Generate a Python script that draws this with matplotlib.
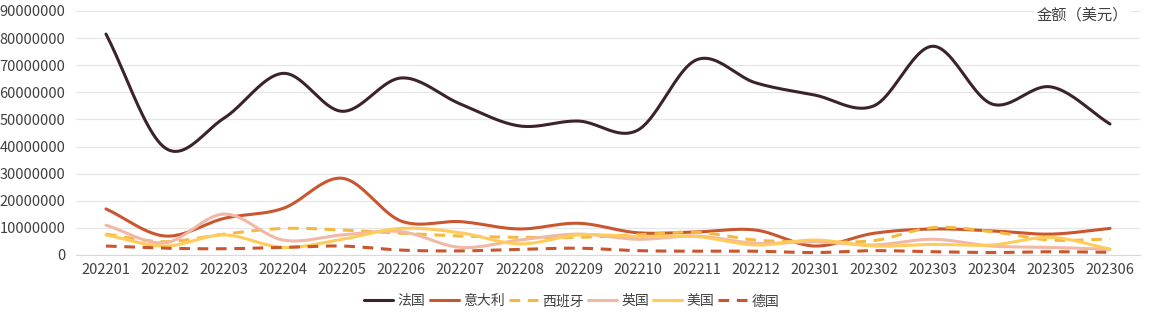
import numpy as np
import matplotlib
matplotlib.use('Agg')
import matplotlib.pyplot as plt

plt.rcParams['font.family'] = ['Noto Sans CJK SC', 'DejaVu Sans']

# monthly amounts, USD
months = ['202201', '202202', '202203', '202204', '202205', '202206',
          '202207', '202208', '202209', '202210', '202211', '202212',
          '202301', '202302', '202303', '202304', '202305', '202306']
france = [81.5e6, 39.5e6, 50.5e6, 67.0e6, 53.0e6, 65.3e6, 55.7e6, 47.6e6, 49.4e6,
          46.0e6, 72.0e6, 63.5e6, 59.0e6, 55.0e6, 77.0e6, 55.7e6, 62.0e6, 48.3e6]
italy = [17.0e6, 7.0e6, 13.5e6, 17.2e6, 28.3e6, 12.5e6, 12.3e6, 9.6e6, 11.7e6,
         8.2e6, 8.5e6, 9.2e6, 3.3e6, 8.0e6, 9.6e6, 8.9e6, 7.7e6, 9.8e6]
spain = [7.7e6, 4.9e6, 7.7e6, 9.8e6, 9.2e6, 8.0e6, 7.0e6, 6.5e6, 6.5e6,
         7.4e6, 8.4e6, 5.5e6, 4.9e6, 5.3e6, 10.1e6, 8.6e6, 5.5e6, 5.9e6]
uk = [11.0e6, 4.5e6, 15.1e6, 5.5e6, 7.4e6, 8.6e6, 2.8e6, 5.5e6, 7.7e6,
      5.8e6, 7.0e6, 4.3e6, 4.9e6, 3.7e6, 5.8e6, 3.3e6, 2.8e6, 2.1e6]
usa = [7.4e6, 3.3e6, 7.4e6, 2.8e6, 5.8e6, 9.8e6, 8.2e6, 4.1e6, 7.4e6,
       6.8e6, 6.8e6, 3.7e6, 5.5e6, 3.3e6, 3.9e6, 3.7e6, 6.5e6, 2.2e6]
germany = [3.3e6, 2.5e6, 2.3e6, 2.8e6, 3.3e6, 1.8e6, 1.5e6, 2.1e6, 2.5e6,
           1.6e6, 1.4e6, 1.4e6, 0.9e6, 1.6e6, 1.2e6, 0.9e6, 1.2e6, 1.0e6]


def smooth(y, steps=24):
    # Catmull-Rom curve through every point, like spreadsheet "smoothed line"
    y = np.asarray(y, dtype=float)
    x = np.arange(len(y), dtype=float)
    px = np.concatenate([[2 * x[0] - x[1]], x, [2 * x[-1] - x[-2]]])
    py = np.concatenate([[2 * y[0] - y[1]], y, [2 * y[-1] - y[-2]]])
    xs, ys = [], []
    t = np.linspace(0, 1, steps, endpoint=False)
    for i in range(1, len(px) - 2):
        for p, out in ((px, xs), (py, ys)):
            p0, p1, p2, p3 = p[i - 1], p[i], p[i + 1], p[i + 2]
            out.append(0.5 * (2 * p1 + (-p0 + p2) * t
                              + (2 * p0 - 5 * p1 + 4 * p2 - p3) * t ** 2
                              + (-p0 + 3 * p1 - 3 * p2 + p3) * t ** 3))
    xs.append([x[-1]])
    ys.append([y[-1]])
    return np.concatenate(xs), np.concatenate(ys)


series = [
    ('法国', france, '#3b2329', '-'),
    ('意大利', italy, '#c9562e', '-'),
    ('西班牙', spain, '#f5b942', (0, (3.5, 2.5))),
    ('英国', uk, '#f0b8a5', '-'),
    ('美国', usa, '#ffcb5a', '-'),
    ('德国', germany, '#c9562e', (0, (3.5, 2.5))),
]

fig = plt.figure(figsize=(11.55, 3.28), dpi=100)
ax = fig.add_axes([0.0662, 0.2226, 0.9204, 0.7439])

for name, vals, color, ls in series:
    sx, sy = smooth(vals)
    ax.plot(sx, sy, color=color, linestyle=ls, lw=2.2, label=name,
            solid_capstyle='round', dash_capstyle='butt')

ax.set_xlim(-0.5, len(months) - 0.5)
ax.set_ylim(0, 90e6)
ax.set_yticks(np.arange(0, 90e6 + 1, 10e6))
ax.set_yticklabels([str(int(v)) for v in np.arange(0, 90e6 + 1, 10e6)])
ax.set_xticks(range(len(months)))
ax.set_xticklabels(months)
ax.grid(axis='y', color='#e6e6e6', lw=0.9)
ax.set_axisbelow(True)
for s in ['top', 'right', 'left']:
    ax.spines[s].set_visible(False)
ax.spines['bottom'].set_color('#d9d9d9')
ax.tick_params(axis='both', length=0, labelsize=10.5, colors='#404040', pad=6)
ax.tick_params(axis='y', pad=8)

ax.text(0.989, 0.9836, '金额（美元）', transform=ax.transAxes, ha='right', va='center',
        fontsize=11, color='#404040',
        bbox=dict(facecolor='white', edgecolor='none', pad=2))

ax.legend(loc='center', bbox_to_anchor=(0.466, -0.19), ncol=6, frameon=False,
          fontsize=10, handlelength=2.1, columnspacing=0.3, handletextpad=0.3,
          labelcolor='#404040')

fig.savefig('out.png', dpi=100)
